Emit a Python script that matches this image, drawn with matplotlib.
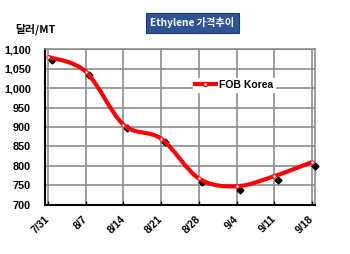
import numpy as np
import matplotlib
matplotlib.use("Agg")
import matplotlib.pyplot as plt
import matplotlib.transforms as mtransforms
from matplotlib.path import Path
from matplotlib.patches import PathPatch
from matplotlib.lines import Line2D

plt.rcParams["font.family"] = ["Noto Sans CJK KR", "DejaVu Sans"]

# data
dates = ["7/31", "8/7", "8/14", "8/21", "8/28", "9/4", "9/11", "9/18"]
fob_korea = [1080, 1042, 906, 870, 768, 748, 774, 810]
y_ticks = [700, 750, 800, 850, 900, 950, 1000, 1050, 1100]

fig = plt.figure(figsize=(3.5, 2.54), dpi=100)
ax = fig.add_axes([0.1286, 0.193, 0.7714, 0.614])

x = np.arange(len(dates))
y = np.array(fob_korea, dtype=float)

# smoothed line like Excel: cubic bezier segments through the points
pts = np.column_stack([x, y])
verts = [tuple(pts[0])]
codes = [Path.MOVETO]
for i in range(len(pts) - 1):
    p0 = pts[i - 1] if i > 0 else pts[i]
    p1, p2 = pts[i], pts[i + 1]
    p3 = pts[i + 2] if i + 2 < len(pts) else pts[i + 1]
    c1 = p1 + (p2 - p0) / 6
    c2 = p2 - (p3 - p1) / 6
    verts += [tuple(c1), tuple(c2), tuple(p2)]
    codes += [Path.CURVE4] * 3
ax.add_patch(PathPatch(Path(verts, codes), fill=False, edgecolor="#ff0000",
                       lw=3, zorder=4, clip_on=False))

# black diamond markers sit a little below-right of the line
shift = mtransforms.offset_copy(ax.transData, fig=fig, x=3.5, y=-3.5, units="dots")
ax.plot(x, y, ls="none", marker="D", ms=3.5, color="black", transform=shift,
        zorder=3, clip_on=False)
ax.plot(x, y, ls="none", marker="o", ms=2.5, mfc="white", mec="#ff0000",
        mew=0.6, zorder=5, clip_on=False)

ax.set_xlim(-0.08, 7.08)
ax.set_ylim(700, 1100)
ax.set_yticks(y_ticks)
ax.set_yticklabels([f"{v:,}" for v in y_ticks], fontsize=7.8, fontweight="bold",
                   family=["Liberation Sans"])
ax.set_xticks(x)
ax.set_xticklabels(dates, rotation=45, ha="right", va="center",
                   rotation_mode="anchor", fontsize=7.5, fontweight="bold",
                   family=["Liberation Sans"])
label_shift = mtransforms.ScaledTranslation(4 / 100, 0, fig.dpi_scale_trans)
for lab in ax.get_xticklabels():
    lab.set_transform(lab.get_transform() + label_shift)
ax.tick_params(axis="x", direction="in", length=3, width=1, pad=9)
ax.tick_params(axis="y", length=0, pad=10)
ax.grid(True, color="#8c8c8c", lw=1.2)
ax.set_axisbelow(True)
for side in ["left", "bottom"]:
    ax.spines[side].set_color("black")
    ax.spines[side].set_linewidth(1.5)
for side in ["top", "right"]:
    ax.spines[side].set_color("#8c8c8c")
    ax.spines[side].set_linewidth(1.2)

handle = Line2D([], [], color="#ff0000", lw=3, marker="o", ms=3,
                mfc="white", mec="#ff0000")
leg = ax.legend([handle], ["FOB Korea"], loc="center", bbox_to_anchor=(0.7, 0.77),
                frameon=True, fancybox=False, framealpha=1, edgecolor="white",
                handlelength=2, handletextpad=0.3, borderpad=0.2,
                prop={"size": 7.5, "weight": "bold", "family": ["Liberation Sans"]})

fig.text(0.043, 0.885, "달러/MT", fontsize=7.8, fontweight="bold", va="center")
fig.text(0.55, 0.91, "Ethylene 가격추이", fontsize=7.3, fontweight="bold",
         color="white", ha="center", va="center",
         bbox=dict(boxstyle="square,pad=0.45", facecolor="#2f5496",
                   edgecolor="#1f3864", lw=0.8))

plt.savefig("out.png", dpi=100)
